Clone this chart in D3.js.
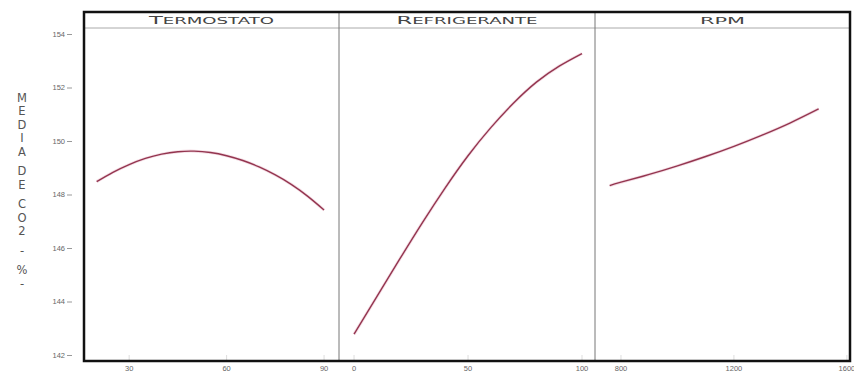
<!DOCTYPE html>
<html>
<head>
<meta charset="utf-8">
<script src="https://cdn.jsdelivr.net/npm/d3@7"></script>
<style>
  html, body { margin: 0; padding: 0; background: #fff; }
  svg { display: block; font-family: "Liberation Sans", Arial, sans-serif; }
</style>
</head>
<body>
<svg id="chart" width="854" height="373"></svg>
<script>
// Main-effects curves: mean CO2 (%) against each factor
const panelTitles = ["TERMOSTATO", "REFRIGERANTE", "RPM"];

const termostatoX = [20, 25, 30, 35, 40, 45, 50, 55, 60, 65, 70, 75, 80, 85, 90];
const termostatoY = [148.48, 148.83, 149.12, 149.35, 149.51, 149.60, 149.62, 149.57,
                     149.45, 149.27, 149.03, 148.73, 148.37, 147.93, 147.42];

const refrigeranteX = [0, 10, 20, 30, 40, 50, 60, 70, 80, 90, 100];
const refrigeranteY = [142.78, 144.18, 145.58, 146.95, 148.25, 149.45, 150.50,
                       151.42, 152.20, 152.80, 153.27];

const rpmX = [760, 800, 900, 1000, 1100, 1200, 1300, 1400, 1500];
const rpmY = [148.33, 148.46, 148.75, 149.07, 149.42, 149.80, 150.22, 150.68, 151.20];

const xDomains = [[16.1, 94.6], [-6.6, 105.7], [708, 1611]];
const xTicks = [[30, 60, 90], [0, 50, 100], [800, 1200, 1600]];

const yDomain = [142, 154];
const yTicks = [142, 144, 146, 148, 150, 152, 154];

const yTitle = ["M", "E", "D", "I", "A", " ", "D", "E", " ", "C", "O", "2", " ", "-", " ", "%", "-"];

const series = [
  termostatoX.map((x, i) => [x, termostatoY[i]]),
  refrigeranteX.map((x, i) => [x, refrigeranteY[i]]),
  rpmX.map((x, i) => [x, rpmY[i]])
];

const svg = d3.select("#chart");

const frame = { left: 84, right: 850, top: 12, bottom: 361, strip: 28 };
const dividers = [84, 339, 595, 850];
const titleWidths = [125, 141, 45];

// y scale shared by all panels
const y = d3.scaleLinear().domain(yDomain).range([355, 34]);

// left axis (ticks sit a little away from the frame)
const yAxis = svg.append("g")
  .attr("transform", "translate(72,0)")
  .call(d3.axisLeft(y).tickValues(yTicks).tickSize(5).tickPadding(2).tickFormat(d3.format("d")));
yAxis.select(".domain").remove();
yAxis.selectAll("line").attr("stroke", "#999");
yAxis.selectAll("text").attr("font-size", 7.5).attr("fill", "#666")
  .attr("font-family", "Liberation Sans, Arial, sans-serif");

// vertical stacked axis title: letters step down, blanks leave a shorter gap
let pos = 98;
const letterPos = yTitle.map(ch => {
  const p = pos;
  pos += ch === " " ? 6 : 13.5;
  return p;
});
svg.append("g").attr("fill", "#555").attr("font-size", 11.5)
  .attr("text-anchor", "middle").attr("font-family", "DejaVu Sans, sans-serif")
  .selectAll("text").data(yTitle.map((ch, i) => ({ ch, p: letterPos[i] })).filter(d => d.ch !== " "))
  .join("text")
  .attr("x", 22).attr("y", d => d.p)
  .attr("dominant-baseline", "middle")
  .text(d => d.ch);

const line = x => d3.line().curve(d3.curveNatural).x(d => x(d[0])).y(d => y(d[1]));

// panels
series.forEach((pts, i) => {
  const x0 = dividers[i], x1 = dividers[i + 1];
  const x = d3.scaleLinear().domain(xDomains[i]).range([x0, x1]);

  // faint inner tick marks at the bottom
  svg.append("g").selectAll("line").data(xTicks[i].filter(t => x(t) > x0 + 2 && x(t) < x1 - 2))
    .join("line")
    .attr("x1", d => x(d)).attr("x2", d => x(d))
    .attr("y1", frame.bottom - 6).attr("y2", frame.bottom)
    .attr("stroke", "#ddd").attr("stroke-width", 1);

  // bottom tick labels
  svg.append("g").attr("font-size", 7.5).attr("fill", "#666").attr("text-anchor", "middle")
    .selectAll("text").data(xTicks[i]).join("text")
    .attr("x", d => x(d)).attr("y", 371)
    .text(d => d);

  // curve with a soft pink halo
  svg.append("path")
    .datum(pts)
    .attr("fill", "none")
    .attr("stroke", "#eab9c9")
    .attr("stroke-width", 3)
    .attr("stroke-opacity", 0.5)
    .attr("d", line(x));
  svg.append("path")
    .datum(pts)
    .attr("fill", "none")
    .attr("stroke", "#93354f")
    .attr("stroke-width", 1.4)
    .attr("d", line(x));

  // strip title: first letter larger, the rest in small caps, stretched wide
  const cx = (x0 + x1) / 2;
  const name = panelTitles[i];
  const t = svg.append("text")
    .attr("x", cx).attr("y", 24)
    .attr("text-anchor", "middle")
    .attr("fill", "#444")
    .attr("font-family", "DejaVu Sans, sans-serif")
    .attr("textLength", titleWidths[i])
    .attr("lengthAdjust", "spacingAndGlyphs");
  if (name === "RPM") {
    t.append("tspan").attr("font-size", 9.5).text(name);
  } else {
    t.append("tspan").attr("font-size", 10).text(name[0]);
    t.append("tspan").attr("font-size", 8).text(name.slice(1));
  }
});

// strip separator line
svg.append("line")
  .attr("x1", frame.left).attr("x2", frame.right)
  .attr("y1", frame.strip).attr("y2", frame.strip)
  .attr("stroke", "#aaa").attr("stroke-width", 1);

// panel dividers
svg.append("g").selectAll("line").data(dividers.slice(1, -1)).join("line")
  .attr("x1", d => d).attr("x2", d => d)
  .attr("y1", frame.top).attr("y2", frame.bottom)
  .attr("stroke", "#777").attr("stroke-width", 1);

// outer frame
svg.append("rect")
  .attr("x", frame.left).attr("y", frame.top)
  .attr("width", frame.right - frame.left).attr("height", frame.bottom - frame.top)
  .attr("fill", "none").attr("stroke", "#111").attr("stroke-width", 2.5);
</script>
</body>
</html>
